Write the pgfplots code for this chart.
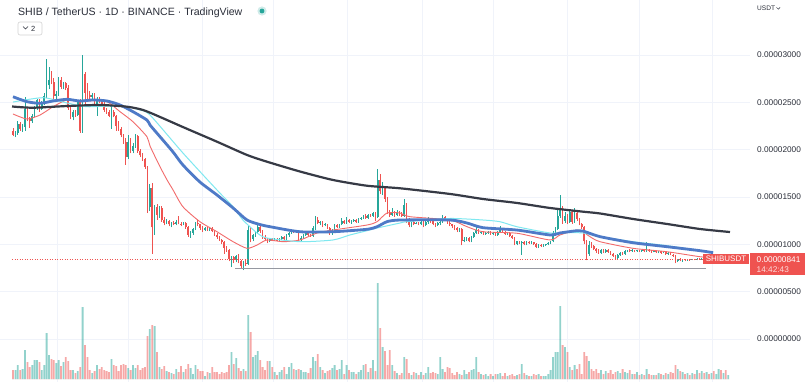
\documentclass[border=0pt]{standalone}
\usepackage{pgfplots}
\pgfplotsset{compat=1.18}
\usepackage{pgfplotstable}
\usepackage{fontspec}
\setmainfont{Liberation Sans}
\definecolor{upc}{HTML}{26A69A}
\definecolor{dnc}{HTML}{EF5350}
\definecolor{gridc}{HTML}{F0F3FA}
\definecolor{maA}{HTML}{363A45}
\definecolor{maB}{HTML}{4E7AC7}
\definecolor{maC}{HTML}{7FE8F0}
\definecolor{maD}{HTML}{F26B6B}
\definecolor{txt}{HTML}{2A2E39}
\definecolor{supp}{HTML}{9598A1}

% prices in units of 0.00000001 USDT, v = volume (relative)
\pgfplotstableread{
i o h l c v
0 2200 2230 2140 2160 9
1 2160 2200 2130 2180 9
2 2180 2300 2160 2270 14
3 2270 2290 2200 2220 9
4 2220 2270 2190 2240 10
5 2240 2560 2200 2430 29
6 2430 2450 2300 2330 17
7 2330 2350 2230 2300 12
8 2300 2380 2280 2360 14
9 2360 2460 2340 2440 19
10 2440 2540 2420 2520 19
11 2520 2530 2400 2430 17
12 2430 2510 2420 2490 9
13 2490 2600 2470 2570 14
14 2570 2958 2550 2680 46
15 2680 2870 2640 2740 24
16 2740 2830 2690 2720 20
17 2720 2760 2540 2570 19
18 2570 2620 2530 2590 16
19 2590 2770 2570 2740 19
20 2740 2770 2640 2660 13
21 2660 2720 2640 2700 17
22 2700 2710 2630 2650 22
23 2650 2680 2420 2440 18
24 2440 2470 2320 2340 9
25 2340 2420 2310 2400 9
26 2400 2420 2350 2370 6
27 2370 2520 2360 2500 8
28 2500 2530 2180 2200 12
29 2200 3000 2180 2800 72
30 2800 2820 2480 2600 34
31 2600 2700 2540 2580 22
32 2580 2620 2520 2560 9
33 2560 2600 2530 2575 6
34 2575 2600 2460 2480 8
35 2480 2560 2360 2540 14
36 2540 2560 2490 2510 10
37 2510 2530 2460 2480 12
38 2480 2500 2400 2420 9
39 2420 2440 2380 2400 8
40 2400 2420 2340 2360 7
41 2360 2470 2220 2400 20
42 2400 2420 2340 2360 14
43 2360 2370 2200 2250 13
44 2250 2300 2200 2220 8
45 2220 2240 2130 2150 14
46 2150 2170 2060 2080 15
47 2080 2120 1840 1920 14
48 1920 2150 1900 2080 11
49 2080 2120 1960 1990 9
50 1990 2070 1960 2040 14
51 2040 2170 2020 2140 11
52 2140 2150 1970 1990 14
53 1990 2010 1920 1940 9
54 1940 1960 1880 1900 11
55 1900 1910 1800 1820 12
56 1820 1830 1330 1390 43
57 1390 1640 1350 1600 50
58 1600 1650 900 1180 54
59 1180 1420 1100 1390 53
60 1390 1430 1260 1310 27
61 1310 1410 1280 1380 12
62 1380 1400 1240 1260 10
63 1260 1290 1200 1230 13
64 1230 1270 1210 1250 8
65 1250 1260 1190 1210 7
66 1210 1240 1180 1230 6
67 1230 1250 1200 1220 5
68 1220 1260 1200 1240 10
69 1240 1300 1210 1220 7
70 1220 1240 1190 1210 13
71 1210 1240 1200 1230 7
72 1230 1240 1160 1180 10
73 1180 1190 1080 1100 15
74 1100 1140 1070 1120 11
75 1120 1170 1100 1160 5
76 1160 1240 1150 1230 14
77 1230 1260 1190 1210 10
78 1210 1220 1150 1170 8
79 1170 1190 1130 1150 8
80 1150 1180 1140 1170 3
81 1170 1180 1140 1160 7
82 1160 1180 1140 1170 6
83 1170 1180 1130 1140 12
84 1140 1150 1090 1100 7
85 1100 1120 1060 1080 7
86 1080 1090 1040 1050 5
87 1050 1060 1000 1020 7
88 1020 1030 900 960 6
89 960 980 920 940 7
90 940 950 820 850 14
91 850 880 760 870 27
92 870 880 800 830 15
93 830 890 810 880 21
94 880 900 800 820 11
95 820 830 750 770 8
96 770 820 728 800 10
97 800 830 770 790 8
98 790 1200 780 1150 64
99 1150 1180 1020 1060 47
100 1060 1110 1030 1100 22
101 1100 1140 1080 1130 24
102 1130 1200 1110 1180 28
103 1180 1200 1120 1140 19
104 1140 1150 1060 1080 12
105 1080 1100 1040 1060 9
106 1060 1070 1010 1030 18
107 1030 1070 1020 1060 18
108 1060 1070 1030 1040 12
109 1040 1070 1030 1060 7
110 1060 1070 1030 1040 4
111 1040 1070 1030 1060 7
112 1060 1090 1050 1080 9
113 1080 1090 1050 1060 12
114 1060 1110 1050 1100 5
115 1100 1130 1080 1120 12
116 1120 1160 1110 1140 16
117 1140 1150 1120 1130 10
118 1130 1150 1120 1140 9
119 1140 1150 1030 1050 10
120 1050 1090 1030 1070 9
121 1070 1110 1060 1100 7
122 1100 1130 1090 1120 7
123 1120 1140 1080 1100 6
124 1100 1110 1080 1090 11
125 1090 1190 1080 1170 22
126 1170 1300 1150 1260 18
127 1260 1290 1210 1230 25
128 1230 1250 1200 1240 12
129 1240 1250 1180 1200 9
130 1200 1230 1190 1210 6
131 1210 1220 1160 1170 8
132 1170 1180 1100 1120 9
133 1120 1160 1100 1140 11
134 1140 1210 1130 1200 14
135 1200 1210 1170 1180 9
136 1180 1220 1170 1210 10
137 1210 1280 1200 1250 19
138 1250 1260 1220 1230 5
139 1230 1290 1220 1260 14
140 1260 1270 1230 1240 9
141 1240 1260 1220 1250 7
142 1250 1270 1240 1260 7
143 1260 1270 1230 1240 5
144 1240 1280 1230 1270 7
145 1270 1290 1260 1280 9
146 1280 1310 1270 1300 14
147 1300 1320 1270 1280 15
148 1280 1320 1270 1310 7
149 1310 1320 1290 1300 11
150 1300 1340 1290 1330 19
151 1330 1340 1250 1290 8
152 1290 1800 1280 1680 96
153 1680 1740 1530 1560 51
154 1560 1660 1520 1600 32
155 1600 1620 1450 1480 28
156 1480 1500 1320 1340 14
157 1340 1360 1290 1310 29
158 1310 1380 1300 1340 14
159 1340 1350 1290 1310 8
160 1310 1360 1300 1340 6
161 1340 1350 1300 1320 4
162 1320 1340 1290 1300 6
163 1300 1480 1290 1420 22
164 1420 1440 1230 1260 20
165 1260 1280 1180 1200 6
166 1200 1250 1180 1240 4
167 1240 1260 1200 1220 7
168 1220 1240 1210 1230 6
169 1230 1240 1200 1210 4
170 1210 1250 1200 1240 7
171 1240 1250 1180 1200 4
172 1200 1250 1190 1240 6
173 1240 1290 1220 1270 12
174 1270 1280 1230 1250 6
175 1250 1260 1200 1210 7
176 1210 1230 1180 1200 6
177 1200 1240 1190 1230 5
178 1230 1250 1200 1240 22
179 1240 1310 1230 1290 10
180 1290 1300 1250 1260 7
181 1260 1270 1220 1230 12
182 1230 1250 1190 1210 11
183 1210 1220 1170 1190 6
184 1190 1200 1150 1170 4
185 1170 1180 1130 1150 7
186 1150 1170 1130 1160 5
187 1160 1170 990 1040 4
188 1040 1080 1020 1050 9
189 1050 1080 1030 1070 5
190 1070 1080 1020 1030 7
191 1030 1090 1020 1080 9
192 1080 1130 1070 1120 10
193 1120 1190 1110 1150 22
194 1150 1160 1110 1120 7
195 1120 1140 1110 1130 5
196 1130 1140 1100 1110 4
197 1110 1130 1100 1120 5
198 1120 1140 1110 1130 3
199 1130 1140 1100 1110 5
200 1110 1130 1100 1120 3
201 1120 1130 1090 1100 5
202 1100 1140 1090 1130 5
203 1130 1190 1120 1160 6
204 1160 1170 1120 1130 3
205 1130 1140 1100 1110 6
206 1110 1130 1100 1120 3
207 1120 1130 1080 1090 4
208 1090 1100 1060 1070 5
209 1070 1080 990 1000 3
210 1000 1040 990 1030 4
211 1030 1040 1000 1010 5
212 1010 1030 890 1020 15
213 1020 1030 990 1000 6
214 1000 1030 990 1020 4
215 1020 1030 1000 1010 3
216 1010 1030 1000 1020 3
217 1020 1025 990 1000 5
218 1000 1010 960 970 4
219 970 1000 960 990 5
220 990 1000 970 980 3
221 980 1000 970 995 3
222 995 1005 980 1000 3
223 1000 1020 990 1010 5
224 1010 1040 1000 1030 9
225 1030 1140 1020 1120 22
226 1120 1180 1090 1160 27
227 1160 1360 1150 1300 27
228 1300 1520 1280 1370 73
229 1370 1400 1220 1250 34
230 1250 1340 1230 1300 32
231 1300 1320 1210 1240 27
232 1240 1370 1230 1340 12
233 1340 1350 1220 1240 9
234 1240 1380 1230 1330 14
235 1330 1340 1250 1270 10
236 1270 1280 1200 1220 15
237 1220 1230 1160 1180 5
238 1180 1190 1000 1030 27
239 1030 1050 830 900 23
240 900 1040 880 990 18
241 990 1020 960 980 10
242 980 990 940 950 8
243 950 960 910 930 10
244 930 950 900 910 6
245 910 950 900 940 9
246 940 950 910 920 5
247 920 950 910 940 8
248 940 950 910 920 6
249 920 930 890 900 9
250 900 910 870 880 5
251 880 890 850 860 7
252 860 900 850 890 8
253 890 920 880 910 6
254 910 920 890 900 10
255 900 940 890 930 7
256 930 945 915 935 6
257 935 950 915 925 9
258 925 950 920 940 5
259 940 945 915 925 5
260 925 945 920 935 7
261 935 940 920 925 4
262 925 945 920 935 5
263 935 940 915 925 4
264 925 1020 920 945 10
265 945 950 920 930 5
266 930 940 910 920 4
267 920 935 915 930 4
268 930 935 910 915 4
269 915 930 905 925 6
270 925 930 900 910 5
271 910 925 905 920 4
272 920 925 890 895 6
273 895 915 890 910 5
274 910 915 885 890 7
275 890 900 870 880 6
276 880 885 800 820 14
277 820 850 810 840 10
278 840 860 820 830 8
279 830 850 815 845 7
280 845 850 820 830 5
281 830 850 825 845 6
282 845 850 825 835 4
283 835 850 830 845 6
284 845 850 830 835 5
285 835 855 830 850 9
286 850 855 835 840 6
287 840 860 835 850 8
288 850 855 830 840 6
289 840 860 835 855 7
290 855 860 840 845 5
291 845 855 835 850 6
292 850 855 830 835 8
293 835 850 830 845 5
294 845 870 840 860 10
295 860 865 840 845 9
296 845 855 835 850 6
297 850 855 835 838 9
298 838 850 830 841 4
}\candles

\pgfplotsset{candle/.style={draw=none, no markers, forget plot,
  error bars/.cd, y dir=plus, y explicit, error mark=none}}

\begin{document}
\begin{tikzpicture}[x=1bp,y=1bp]
\path[use as bounding box, fill=white] (0,0) rectangle (812,382);
\begin{axis}[at={(0,0)}, anchor=south west, scale only axis,
  width=750bp, height=382bp,
  xmin=-5.4167, xmax=307.083, ymin=-454.2, ymax=3581,
  axis line style={draw=none}, major tick length=0pt,
  xtick={18.33,47.92,78.75,108.33,139.17,170.42,200,230.83,260.83,291.25},
  xticklabels={},
  ytick={0,500,1000,1500,2000,2500,3000},
  yticklabels={0.00000000,0.00000500,0.00001000,0.00001500,0.00002000,0.00002500,0.00003000},
  yticklabel pos=right,
  yticklabel style={anchor=west, inner sep=0pt, xshift=7bp, font=\fontsize{8.3}{10}\selectfont, text=txt},
  grid=major, major grid style={draw=gridc, line width=0.8bp},
  clip=true]
% wicks
\addplot[candle, error bar style={draw=upc, line width=0.8bp}]
  table[x=i, y=l, y error plus expr={(\thisrow{c}>=\thisrow{o})*(\thisrow{h}-\thisrow{l})}]{\candles};
\addplot[candle, error bar style={draw=dnc, line width=0.8bp}]
  table[x=i, y=l, y error plus expr={(\thisrow{c}<\thisrow{o})*(\thisrow{h}-\thisrow{l})}]{\candles};
% bodies
\addplot[candle, error bar style={draw=upc, line width=1.7bp}]
  table[x=i, y expr={min(\thisrow{o},\thisrow{c})}, y error plus expr={max(\thisrow{c}-\thisrow{o},0)}]{\candles};
\addplot[candle, error bar style={draw=dnc, line width=1.7bp}]
  table[x=i, y expr={min(\thisrow{o},\thisrow{c})}, y error plus expr={max(\thisrow{o}-\thisrow{c},0)}]{\candles};
% support line and last price line
\addplot[supp, line width=1.6bp] coordinates {(92.5,745) (288.75,745)};
\addplot[dnc, line width=0.6bp, dash pattern=on 1bp off 1.5bp] coordinates {(-0.4,841) (307,841)};
% moving averages
\addplot[maD, line width=0.9bp, smooth, tension=0.4] coordinates {
(0,2377) (5.8,2324) (11.25,2366) (16.7,2454) (22.5,2525) (27.9,2507) (33.3,2517) (39.2,2507)
(44.6,2401) (50,2295) (55.8,2137) (57.1,2038) (61.25,1820) (64.2,1680) (66.7,1574) (70.8,1397)
(77.9,1239) (85,1133) (91.7,1028) (97.5,958) (101.7,993) (105.8,1046) (112.5,1028) (119.6,1046)
(126.7,1120) (133.3,1151) (147.5,1204) (151.7,1239) (155.8,1331) (161.25,1331) (165.4,1292)
(182.1,1257) (189.2,1186) (195.8,1133) (210,1117) (223.75,1046) (227.9,1099) (235,1151)
(237.5,1133) (240.4,1081) (244.6,1028) (258.3,958) (272.5,922) (286.25,869) (291,860)};
\addplot[maC, line width=1bp, smooth, tension=0.4] coordinates {
(0,2503) (12.5,2549) (22.5,2493) (30.8,2454) (40.4,2461) (47.5,2454) (52.9,2419) (57.1,2366)
(70.8,1965) (85,1574) (91.7,1397) (95.8,1257) (101.7,1120) (105.8,1067) (119.6,1028) (133.3,1046)
(140.4,1099) (147.5,1144) (151.7,1172) (161.25,1225) (164.2,1239) (182.1,1273) (195.8,1257)
(202.9,1239) (210,1186) (223.75,1120) (230.8,1123) (237.5,1120) (244.6,1083) (258.3,1028)
(272.5,986) (286.25,933) (291.7,914)};
\addplot[maB, line width=2.8bp, smooth, tension=0.4] coordinates {
(0,2559) (5.8,2507) (11.25,2490) (16.7,2514) (22.5,2532) (27.9,2514) (33.3,2525) (39.2,2514)
(44.6,2472) (50,2401) (55.8,2313) (57.1,2260) (61.25,2137) (66.7,1975) (70.8,1838) (77.9,1658)
(85,1521) (91.7,1384) (97.5,1257) (102.9,1209) (107.1,1186) (119.6,1133) (133.3,1133)
(147.5,1159) (151.7,1186) (155.8,1239) (161.25,1257) (182.1,1257) (189.2,1225) (195.8,1176)
(210,1151) (223.75,1099) (227.9,1120) (235,1144) (237.5,1141) (244.6,1081) (258.3,1017)
(272.5,975) (286.25,933) (291.7,912)};
\addplot[maA, line width=2.2bp, smooth, tension=0.4] coordinates {
(-0.4,2456) (8.3,2443) (22.5,2461) (36.3,2472) (47.5,2454) (54.2,2419) (61.3,2345) (70.8,2239)
(85,2084) (97.5,1944) (105.8,1873) (119.6,1769) (133.3,1680) (147.5,1619) (161.3,1592)
(182.1,1532) (195.8,1479) (210,1437) (223.75,1384) (237.5,1345) (244.6,1326) (258.3,1268)
(272.5,1215) (286.25,1162) (298.75,1130)};
\end{axis}
% volume overlay
\begin{axis}[at={(0,0)}, anchor=south west, scale only axis,
  width=750bp, height=382bp,
  xmin=-5.4167, xmax=307.083, ymin=-3, ymax=379,
  hide axis, ybar, bar width=1.8bp, bar shift=0pt]
\addplot[fill=upc, fill opacity=0.5, draw=none]
  table[x=i, y expr={(\thisrow{c}>=\thisrow{o})*\thisrow{v}}]{\candles};
\addplot[fill=dnc, fill opacity=0.5, draw=none]
  table[x=i, y expr={(\thisrow{c}<\thisrow{o})*\thisrow{v}}]{\candles};
\end{axis}
% header
\node[anchor=base west, inner sep=0pt, text=txt, font=\fontsize{10.6}{12}\selectfont] at (18,367) {SHIB / TetherUS · 1D · BINANCE · TradingView};
\fill[upc!22] (262,371) circle (4.6);
\fill[upc] (262,371) circle (2.4);
\draw[draw=gray!35, line width=0.6bp, rounded corners=2bp] (18,347) rectangle (42,360);
\draw[txt, line width=0.6bp] (23,355.5) -- (25.5,353) -- (28,355.5);
\node[anchor=base west, inner sep=0pt, text=txt, font=\fontsize{7.5}{9}\selectfont] at (31,350.5) {2};
\node[anchor=base west, inner sep=0pt, text=txt, font=\fontsize{6.6}{8}\selectfont] at (757,371.5) {USDT};
\draw[txt, line width=0.5bp] (776.5,374.6) -- (778.3,372.8) -- (780.1,374.6);
% labels
\fill[dnc] (703,118) rectangle (749,128);
\node[anchor=center, inner sep=0pt, text=white, font=\fontsize{8}{9}\selectfont] at (726,123) {SHIBUSDT};
\fill[dnc] (750,107) rectangle (805,129);
\node[anchor=base west, inner sep=0pt, text=white, font=\fontsize{8.3}{10}\selectfont] at (756.5,119.5) {0.00000841};
\node[anchor=base west, inner sep=0pt, text=white!80!dnc, font=\fontsize{8.3}{10}\selectfont] at (756.5,109.5) {14:42:43};
\end{tikzpicture}
\end{document}
